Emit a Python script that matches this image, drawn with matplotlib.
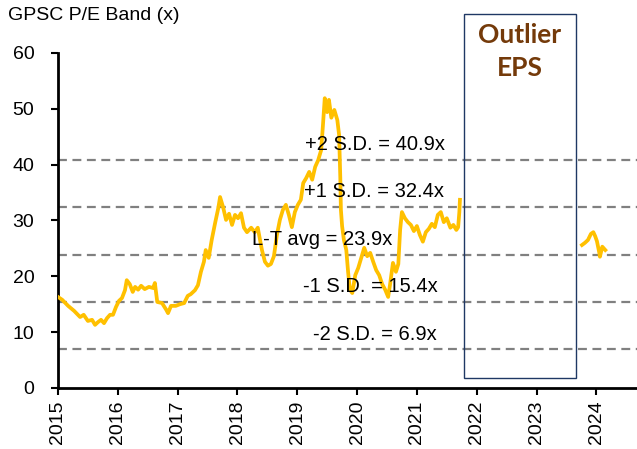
import matplotlib
matplotlib.use("Agg")
import matplotlib.pyplot as plt
from matplotlib.patches import Rectangle

plt.rcParams['font.family'] = ['Liberation Sans', 'DejaVu Sans']

# P/E series (year fraction, multiple)
years1 = [2015.00, 2015.07, 2015.17, 2015.27, 2015.37, 2015.43, 2015.50, 2015.57, 2015.62, 2015.67,
          2015.72, 2015.77, 2015.82, 2015.87, 2015.92, 2015.97, 2016.02, 2016.07, 2016.12, 2016.15,
          2016.20, 2016.25, 2016.29, 2016.34, 2016.39, 2016.45, 2016.52, 2016.59, 2016.62, 2016.66,
          2016.74, 2016.81, 2016.84, 2016.89, 2016.97, 2017.04, 2017.11, 2017.17, 2017.22, 2017.29,
          2017.34, 2017.39, 2017.44, 2017.47, 2017.52, 2017.57, 2017.63, 2017.68, 2017.71, 2017.76,
          2017.81, 2017.86, 2017.91, 2017.96, 2018.01, 2018.06, 2018.11, 2018.16, 2018.23, 2018.29,
          2018.34, 2018.41, 2018.46, 2018.51, 2018.56, 2018.61, 2018.66, 2018.71, 2018.76, 2018.81,
          2018.86, 2018.91, 2018.96, 2019.01, 2019.06, 2019.10, 2019.15, 2019.20, 2019.25, 2019.30,
          2019.35, 2019.40, 2019.43, 2019.46, 2019.50, 2019.53, 2019.57, 2019.62, 2019.67, 2019.70,
          2019.72, 2019.73, 2019.75, 2019.78, 2019.82, 2019.85, 2019.88, 2019.92, 2019.97, 2020.02,
          2020.07, 2020.12, 2020.17, 2020.22, 2020.27, 2020.32, 2020.37, 2020.42, 2020.47, 2020.52,
          2020.55, 2020.60, 2020.65, 2020.69, 2020.72, 2020.75, 2020.80, 2020.85, 2020.90, 2020.95,
          2021.00, 2021.05, 2021.10, 2021.15, 2021.20, 2021.25, 2021.30, 2021.35, 2021.40, 2021.45,
          2021.50, 2021.56, 2021.61, 2021.66, 2021.69, 2021.71, 2021.72]
pe1 = [16.3, 15.8, 14.7, 13.8, 12.7, 13.1, 12.0, 12.2, 11.3, 11.8,
       12.2, 11.6, 12.5, 13.1, 13.1, 14.5, 15.6, 16.1, 17.5, 19.3,
       18.6, 17.2, 18.1, 17.6, 18.3, 17.7, 18.1, 17.9, 18.8, 15.4,
       15.2, 14.0, 13.4, 14.7, 14.7, 15.0, 15.2, 16.5, 16.8, 17.5,
       18.4, 20.8, 22.6, 24.7, 23.3, 26.5, 29.7, 32.2, 34.2, 32.4,
       30.1, 31.2, 29.2, 31.0, 30.4, 31.3, 28.7, 27.9, 28.7, 27.9,
       28.7, 24.7, 22.6, 21.9, 22.2, 23.6, 27.4, 30.1, 31.9, 32.8,
       31.0, 28.8, 31.5, 32.8, 33.7, 36.7, 37.6, 38.7, 37.3, 39.6,
       40.8, 42.6, 47.1, 51.9, 49.4, 51.6, 48.4, 49.8, 48.0, 45.3,
       37.6, 31.9, 29.0, 26.5, 24.7, 20.8, 17.6, 17.0, 20.2, 21.5,
       23.3, 25.1, 23.6, 24.2, 22.6, 21.1, 20.2, 18.6, 17.6, 16.3,
       18.4, 22.4, 20.8, 22.2, 28.3, 31.5, 30.4, 29.7, 29.2, 28.1,
       29.0, 27.4, 26.2, 27.9, 28.5, 29.4, 28.8, 31.0, 31.5, 29.7,
       30.4, 28.7, 29.2, 28.3, 28.8, 31.5, 33.7]

years2 = [2023.76, 2023.81, 2023.86, 2023.91, 2023.95, 2023.98, 2024.01, 2024.05, 2024.06, 2024.10, 2024.15]
pe2 = [25.6, 26.0, 26.5, 27.6, 27.9, 27.2, 26.3, 24.2, 23.5, 25.3, 24.7]

band_values = [40.9, 32.4, 23.9, 15.4, 6.9]
band_labels = ["+2 S.D. = 40.9x", "+1 S.D. = 32.4x", "L-T avg = 23.9x",
               "-1 S.D. = 15.4x", "-2 S.D. = 6.9x"]
band_label_x = [2020.30, 2020.28, 2019.41, 2020.22, 2020.30]

tick_years = list(range(2015, 2025))

fig = plt.figure(figsize=(6.37, 4.49), dpi=100)
ax = fig.add_axes([0.091, 0.136, 0.909, 0.746])

for v, lab, lx in zip(band_values, band_labels, band_label_x):
    ax.axhline(v, color='#808080', lw=1.6, ls=(0, (4, 2.5)), zorder=1)
    ax.text(lx, v + 1.0, lab, ha='center', va='bottom', fontsize=14.5, zorder=4)

ax.plot(years1, pe1, color='#FFC000', lw=2.7, zorder=3)
ax.plot(years2, pe2, color='#FFC000', lw=2.7, zorder=3)

box = Rectangle((2021.79, 1.8), 2023.66 - 2021.79, 67 - 1.8, fill=False,
                edgecolor='#1F3864', lw=1.0, clip_on=False, zorder=5)
ax.add_patch(box)
ax.text(2022.725, 60.3, "Outlier\nEPS", ha='center', va='center', fontsize=19,
        fontweight='bold', color='#743A0A', family=['Lato', 'DejaVu Sans'],
        linespacing=1.45)

ax.set_xlim(2015, 2024.68)
ax.set_ylim(0, 60)
ax.set_xticks(tick_years)
ax.set_xticklabels([str(y) for y in tick_years], rotation=90, fontsize=14)
ax.set_yticks(range(0, 61, 10))
ax.tick_params(axis='y', labelsize=14, length=5, width=1.5, pad=12)
ax.tick_params(axis='x', length=5, width=1.5, pad=4)

for s in ['top', 'right']:
    ax.spines[s].set_visible(False)
for s in ['left', 'bottom']:
    ax.spines[s].set_linewidth(2)

fig.text(0.013, 0.966, "GPSC P/E Band (x)", fontsize=14, ha='left', va='center')

fig.savefig("out.png", dpi=100)
